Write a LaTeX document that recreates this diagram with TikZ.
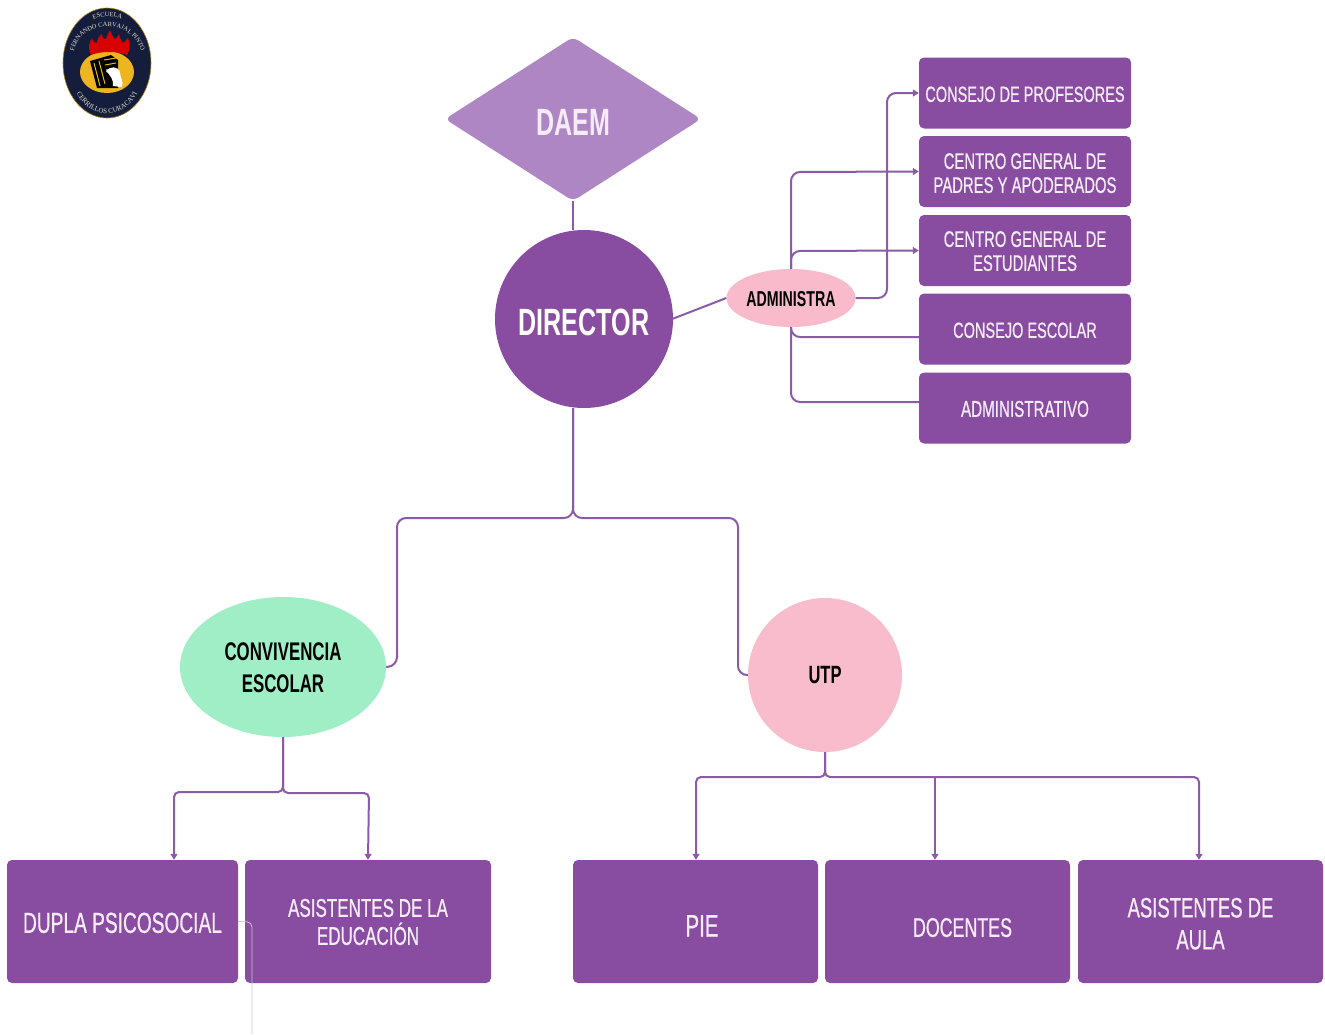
\documentclass[tikz,border=0pt]{standalone}
\usepackage{fontspec}
\usetikzlibrary{arrows.meta,shapes.geometric,decorations.text}
\setmainfont{Liberation Sans}
\newfontfamily\lab[FakeStretch=0.66,FakeBold=0.7]{Liberation Sans}
\newfontfamily\labb[FakeStretch=0.66]{Liberation Sans Bold}
\newfontfamily\seal{Liberation Serif}
\newcommand\tp[1]{\rule{0pt}{#1pt}}
\definecolor{boxp}{HTML}{884CA0}
\definecolor{linep}{HTML}{8A5CA8}
\definecolor{daemc}{HTML}{AF86C4}
\definecolor{pinkc}{HTML}{F9BACB}
\definecolor{pinkd}{HTML}{F8BCCD}
\definecolor{mintc}{HTML}{A0EEC6}
\definecolor{txtw}{HTML}{F6ECF8}
\definecolor{navy}{HTML}{141E3C}
\definecolor{gold}{HTML}{EDB51F}
\definecolor{sealt}{HTML}{E6DFC8}
\tikzset{
  x=1pt,y=-1pt,
  purplebox/.style={fill=boxp,rounded corners=5pt,inner sep=0pt,align=center,text=txtw,font=\lab\fontsize{22}{24}\selectfont},
  smallbox/.style={purplebox,minimum width=212pt,minimum height=71pt},
  bigbox/.style={purplebox,minimum height=123pt,font=\lab\fontsize{28}{32}\selectfont},
  conn/.style={draw=linep,line width=2pt,rounded corners=9pt},
  connarrow/.style={conn,-{Triangle[length=6pt,width=7pt]}},
  darktext/.style={text=black,font=\labb\fontsize{25.5}{32}\selectfont,align=center,inner sep=0pt}
}
\begin{document}
\begin{tikzpicture}
\useasboundingbox (0,0) rectangle (1325,1034);
\fill[white] (0,0) rectangle (1325,1034);

% seal
\fill[navy,draw=gold!70!black,line width=0.6pt] (107,63) ellipse [x radius=44pt,y radius=55pt];
\fill[gold] (107,72) ellipse [x radius=27pt,y radius=21pt];
\begin{scope}[yshift=-3pt]
\fill[red!85!black] (91,52) .. controls (87,44) and (90,38) .. (92,35) .. controls (93,39) and (95,40) .. (97,40) .. controls (97,36) and (99,33) .. (102,31) .. controls (102,35) and (104,37) .. (106,36) .. controls (107,33) and (108,30) .. (110,27) .. controls (111,31) and (113,34) .. (115,36) .. controls (117,35) and (118,33) .. (119,31) .. controls (120,35) and (121,38) .. (123,40) .. controls (125,39) and (126,37) .. (128,35) .. controls (131,41) and (130,47) .. (127,52) .. controls (118,48) and (100,48) .. (91,52) -- cycle;
\end{scope}
\fill[black] (90,61) -- (111,55) -- (118,60) -- (118,88) -- (97,88) -- cycle;
\draw[gold,line width=1pt] (94,63) -- (100,86) (99,61) -- (105,84) (104,60) -- (116,58) (105,65) -- (116,63) (106,70) -- (112,69);
\fill[white] (106,71) .. controls (110,66) and (118,66) .. (120,72) .. controls (120,78) and (124,82) .. (122,87) -- (113,86) .. controls (114,80) and (110,75) .. (106,71) -- cycle;
\path[decorate,decoration={text along path,text align=center,text color=sealt,text={|\seal\fontsize{6.4}{7}\selectfont|FERNANDO CARVAJAL PINTO}}] (73,58) .. controls (75,16) and (139,16) .. (142,58);
\path[decorate,decoration={text along path,text align=center,text color=sealt,text={|\seal\fontsize{6.4}{7}\selectfont|ESCUELA}}] (90,21) .. controls (99,15) and (116,15) .. (125,21);
\path[decorate,decoration={text along path,text align=center,text color=sealt,text={|\seal\fontsize{7}{7}\selectfont|CERRILLOS CURACAVI}}] (73,84) .. controls (84,123) and (130,123) .. (141,84);

% nodes
\node[diamond,fill=daemc,rounded corners=6pt,minimum width=256pt,minimum height=164pt,inner sep=0pt,aspect=1.56,text=txtw,font=\labb\fontsize{38}{40}\selectfont] (daem) at (573,119) {\tp{33}DAEM};
\node[circle,fill=boxp,minimum size=178pt,inner sep=0pt,text=white,font=\labb\fontsize{38}{40}\selectfont] (dir) at (584,319) {\tp{33}DIRECTOR};
\node[ellipse,fill=pinkc,minimum width=129pt,minimum height=58pt,inner sep=0pt,text=black,font=\labb\fontsize{21.5}{22}\selectfont] (adm) at (791,298) {\tp{17}ADMINISTRA};

\node[smallbox] (b1) at (1025,93) {\tp{18}CONSEJO DE PROFESORES};
\node[smallbox,font=\lab\fontsize{22.5}{24}\selectfont] (b2) at (1025,171.5) {\tp{19}CENTRO GENERAL DE\\[0pt]PADRES Y APODERADOS};
\node[smallbox,font=\lab\fontsize{22.5}{24}\selectfont] (b3) at (1025,250.5) {\tp{17}CENTRO GENERAL DE\\[0pt]ESTUDIANTES};
\node[smallbox] (b4) at (1025,329) {\tp{18}CONSEJO ESCOLAR};
\node[smallbox,font=\lab\fontsize{23}{24}\selectfont] (b5) at (1025,408) {\tp{18}ADMINISTRATIVO};

\node[ellipse,fill=mintc,minimum width=206pt,minimum height=140pt,inner sep=0pt,darktext] (conv) at (283,667) {\tp{20}CONVIVENCIA\\ESCOLAR};
\node[circle,fill=pinkd,minimum size=154pt,inner sep=0pt,darktext,font=\labb\fontsize{25}{28}\selectfont] (utp) at (825,675) {UTP};

\node[bigbox,minimum width=231pt,font=\lab\fontsize{29}{32}\selectfont] (dupla) at (122.5,921.5) {\tp{23}DUPLA PSICOSOCIAL};
\node[bigbox,minimum width=246pt,font=\lab\fontsize{25.8}{28}\selectfont] (asis) at (368,921.5) {\tp{19}ASISTENTES DE LA\\EDUCACIÓN};
\node[bigbox,minimum width=245pt,font=\lab\fontsize{31}{32}\selectfont] (pie) at (695.5,921.5) {\hspace*{13pt}\tp{30}PIE};
\node[bigbox,minimum width=245pt,font=\lab\fontsize{27}{28}\selectfont] (doc) at (947.5,921.5) {\hspace*{30pt}\tp{31}DOCENTES};
\node[bigbox,minimum width=245pt] (aula) at (1200.5,921.5) {\tp{24}ASISTENTES DE\\AULA};

% bend coordinates
\coordinate (j1) at (573,518);
\coordinate (j2) at (397,518);
\coordinate (j3) at (397,666);
\coordinate (j4) at (738,518);
\coordinate (j5) at (738,675);
\coordinate (k1) at (283,792);
\coordinate (k2) at (174,792);
\coordinate (k3) at (283,793);
\coordinate (k4) at (369,793);
\coordinate (u1) at (825,777);
\coordinate (u2) at (696,777);
\coordinate (u3) at (1199,777);
\coordinate (u4) at (935,777);
\coordinate (a1) at (887,298);
\coordinate (a2) at (887,93);
\coordinate (a3) at (791,172);
\coordinate (a4) at (791,251);
\coordinate (a5) at (791,337);
\coordinate (a6) at (791,402);
\coordinate (g1) at (252,922);
\coordinate (g2) at (252,1034);

% connectors
\draw[conn] (daem.south) -- ([xshift=-11pt]dir.north);
\draw[conn] (dir.east) ++(-1pt,0pt) -- (adm.west);
\draw[conn] ([xshift=-11pt]dir.south) -- (j1) -- (j2) -- (j3) -- (conv.east);
\draw[conn] ([xshift=-11pt]dir.south) -- (j1) -- (j4) -- (j5) -- (utp.west);

\draw[connarrow] (adm.east) -- (a1) -- (a2) -- (b1.west);
\draw[connarrow] (adm.north) -- (a3) -- (b2.west);
\draw[connarrow] (adm.north) -- (a4) -- (b3.west);
\draw[conn] (adm.south) -- (a5) -- ([yshift=-8pt]b4.west);
\draw[conn] (adm.south) -- (a6) -- ([yshift=6pt]b5.west);

\draw[connarrow,rounded corners=5pt] (conv.south) -- (k1) -- (k2) -- (dupla.north -| k2);
\draw[connarrow,rounded corners=5pt] (conv.south) -- (k3) -- (k4) -- (asis.north);

\draw[connarrow,rounded corners=5pt] (utp.south) -- (u1) -- (u2) -- (pie.north -| u2);
\draw[connarrow,rounded corners=5pt] (utp.south) -- (u1) -- (u3) -- (aula.north -| u3);
\draw[connarrow,rounded corners=0pt] (u4) -- (doc.north -| u4);

\draw[black!22,line width=0.8pt,rounded corners=5pt] (dupla.east) -- (g1) -- (g2);
\end{tikzpicture}
\end{document}
